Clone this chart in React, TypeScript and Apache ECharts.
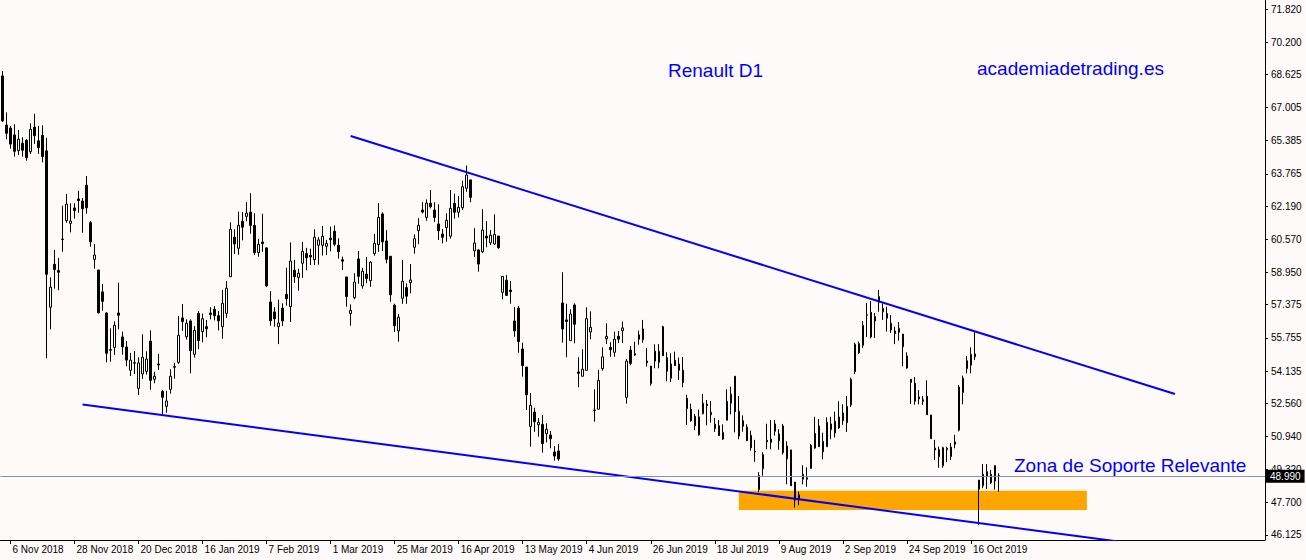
import React, { useEffect, useRef } from "react";
import * as echarts from "echarts";

// ---------- calendar (Euronext trading days) ----------
const FIRST_SESSION = [2018, 10, 2]; // 2 Nov 2018 (month is 0-based)
const MARKET_HOLIDAYS = ["2018-12-25", "2018-12-26", "2019-01-01", "2019-04-19", "2019-04-22", "2019-05-01"];
const SLOT_COUNT = 316;
const MONTH_NAMES = ["Jan", "Feb", "Mar", "Apr", "May", "Jun", "Jul", "Aug", "Sep", "Oct", "Nov", "Dec"];

const X_TICK_LABELS = [
  "6 Nov 2018", "28 Nov 2018", "20 Dec 2018", "16 Jan 2019", "7 Feb 2019", "1 Mar 2019",
  "25 Mar 2019", "16 Apr 2019", "13 May 2019", "4 Jun 2019", "26 Jun 2019", "18 Jul 2019",
  "9 Aug 2019", "2 Sep 2019", "24 Sep 2019", "16 Oct 2019",
];

const Y_TICK_VALUES = [
  46.125, 47.7, 49.32, 50.94, 52.56, 54.135, 55.755, 57.375, 58.95,
  60.57, 62.19, 63.765, 65.385, 67.005, 68.625, 70.2, 71.82,
];

// ---------- Renault D1 candles: [open, close, low, high] ----------
const candlesNov18Jan19 = [
  [68.55, 66.36, 66.3, 68.79], [66.15, 65.75, 65.46, 66.77], [66.0, 65.22, 65.0, 66.11], [65.67, 64.87, 64.61, 66.19],
  [64.9, 65.46, 64.69, 65.91], [65.26, 64.92, 64.61, 65.55], [65.41, 64.56, 64.41, 65.46], [64.85, 65.94, 64.74, 66.24],
  [66.05, 65.63, 65.23, 66.7], [65.38, 65.05, 64.74, 66.11], [65.65, 64.61, 64.33, 66.14], [64.89, 58.86, 54.76, 65.52],
  [57.25, 58.23, 56.17, 58.71], [59.35, 59.09, 58.16, 60.05], [59.04, 58.96, 58.08, 59.66], [60.58, 60.56, 59.96, 62.21],
  [61.48, 62.29, 61.38, 62.78], [61.35, 61.46, 60.91, 62.33], [62.1, 61.97, 61.58, 62.33], [62.54, 62.46, 61.87, 62.94],
  [62.44, 62.06, 60.89, 62.59], [63.21, 62.11, 61.82, 63.66], [61.38, 60.45, 60.21, 61.46], [59.59, 59.8, 59.13, 60.34],
  [59.07, 56.98, 56.95, 59.07], [58.0, 57.54, 57.08, 58.39], [56.97, 55.0, 54.56, 57.0], [55.18, 55.15, 54.59, 56.22],
  [55.29, 56.37, 54.92, 56.56], [56.97, 56.86, 56.17, 58.45], [55.8, 55.31, 54.93, 56.06], [55.31, 54.67, 54.37, 55.6],
  [54.17, 54.67, 53.89, 55.02], [54.54, 54.52, 53.99, 55.11], [53.29, 54.53, 52.96, 54.81], [53.99, 54.81, 53.75, 55.93],
  [54.12, 54.72, 53.96, 55.1], [55.59, 53.68, 53.22, 56.12], [53.73, 53.88, 53.54, 54.1], [54.48, 54.43, 54.19, 54.97],
  [53.13, 52.85, 51.99, 53.21], [52.41, 52.67, 52.1, 53.17], [53.24, 53.88, 53.03, 54.22], [54.35, 54.32, 53.76, 54.54],
  [54.56, 55.88, 54.48, 56.82], [56.73, 56.55, 56.1, 57.41], [55.81, 56.47, 55.67, 56.66], [56.58, 55.13, 54.02, 56.66],
  [54.95, 56.12, 54.79, 56.33], [56.95, 55.62, 55.2, 57.07],
];
const candlesJan19Apr19 = [
  [56.06, 56.69, 55.54, 56.94], [56.3, 56.2, 55.78, 56.63], [56.97, 56.89, 56.66, 57.25], [57.15, 56.84, 56.61, 57.31],
  [56.84, 56.59, 56.12, 57.07], [56.3, 57.44, 55.71, 58.09], [56.95, 58.18, 56.73, 58.53], [58.74, 61.06, 58.74, 61.4],
  [60.67, 60.34, 59.85, 61.06], [60.13, 61.25, 59.82, 61.92], [61.45, 61.16, 60.52, 61.9], [61.69, 61.85, 61.45, 62.38],
  [61.89, 61.25, 60.84, 62.82], [61.25, 59.92, 59.8, 61.84], [59.92, 60.33, 59.72, 60.59], [60.44, 60.36, 59.96, 61.82],
  [60.15, 58.29, 58.23, 60.18], [57.51, 56.59, 56.35, 58.04], [57.02, 56.69, 56.3, 57.26], [56.3, 56.48, 55.45, 57.62],
  [57.21, 56.58, 56.33, 57.44], [57.88, 57.67, 57.33, 59.18], [57.28, 59.51, 56.53, 60.42], [59.06, 58.74, 58.44, 59.57],
  [58.71, 58.91, 58.06, 59.13], [59.4, 59.98, 58.69, 60.44], [59.87, 59.67, 59.06, 60.15], [59.79, 59.71, 59.31, 60.11],
  [59.57, 60.67, 59.31, 61.06], [60.28, 60.54, 59.33, 60.67], [60.28, 60.72, 59.77, 61.22], [60.23, 60.37, 59.8, 60.54],
  [60.63, 60.55, 59.98, 61.19], [60.96, 60.33, 60.23, 61.25], [60.28, 59.96, 59.62, 60.62], [59.57, 59.5, 59.07, 59.72],
  [58.73, 57.77, 57.28, 58.73], [56.94, 57.1, 56.35, 57.39], [57.72, 58.48, 57.64, 58.91], [59.61, 58.76, 58.4, 60.0],
  [58.29, 59.01, 58.16, 59.17], [58.87, 58.66, 58.42, 59.71], [58.55, 59.45, 58.25, 59.51], [59.87, 60.37, 59.77, 60.83],
  [60.31, 61.64, 59.96, 62.34], [61.81, 60.45, 60.0, 61.89], [60.49, 59.59, 59.4, 61.02], [59.74, 57.86, 57.52, 59.74],
  [57.35, 56.35, 56.04, 57.42], [56.09, 56.76, 55.57, 56.92],
];
const candlesApr19Jun19 = [
  [57.69, 58.52, 57.42, 59.56], [58.21, 57.79, 57.42, 58.42], [58.45, 58.58, 57.93, 59.36], [60.18, 60.6, 59.87, 60.81],
  [60.99, 61.25, 60.33, 61.6], [62.0, 61.9, 61.84, 62.38], [61.64, 62.34, 61.48, 62.52], [62.33, 62.16, 62.08, 62.98],
  [62.0, 61.64, 61.42, 62.38], [61.32, 60.99, 60.54, 62.28], [60.83, 60.67, 60.37, 61.07], [61.14, 61.5, 60.45, 61.84],
  [60.72, 62.08, 60.6, 62.98], [62.33, 61.89, 61.58, 62.8], [61.89, 62.13, 61.64, 62.69], [62.11, 63.14, 62.0, 63.43],
  [63.06, 63.71, 62.89, 64.17], [63.47, 62.62, 62.38, 63.48], [60.01, 60.39, 59.71, 61.11], [60.05, 59.36, 58.99, 60.08],
  [59.96, 61.02, 59.89, 62.04], [60.72, 60.63, 60.18, 61.46], [60.4, 60.77, 60.29, 61.02], [60.34, 60.81, 60.29, 61.79],
  [60.73, 60.16, 60.11, 60.73], [57.98, 58.76, 57.64, 58.76], [58.57, 57.83, 57.8, 58.83], [58.09, 58.01, 57.42, 58.53],
  [56.58, 56.1, 55.81, 57.26], [57.21, 55.57, 55.03, 57.31], [55.21, 54.4, 53.86, 55.52], [54.33, 52.98, 52.23, 54.33],
  [51.43, 52.46, 50.44, 53.06], [52.13, 51.66, 51.17, 52.34], [51.51, 51.63, 50.93, 51.84], [51.53, 50.59, 50.15, 51.99],
  [51.07, 51.29, 50.65, 51.58], [51.01, 50.83, 50.36, 51.21], [50.18, 49.98, 49.75, 50.46], [50.23, 49.84, 49.75, 50.57],
  [57.46, 56.19, 55.52, 58.96], [56.63, 56.55, 54.81, 57.42], [55.62, 56.92, 55.62, 57.15], [57.36, 56.42, 55.49, 57.44],
  [54.09, 54.02, 53.34, 54.81], [53.88, 54.22, 53.88, 55.2], [54.17, 56.69, 54.17, 57.25], [56.04, 56.27, 55.69, 57.05],
  [52.23, 52.21, 51.66, 53.24], [52.27, 53.68, 52.27, 54.19],
];
const candlesJun19Aug19 = [
  [54.25, 54.83, 54.15, 55.29], [55.71, 55.83, 55.45, 56.47], [55.29, 55.18, 54.83, 55.54], [55.05, 55.69, 54.83, 56.06],
  [55.83, 55.69, 55.5, 56.09], [56.1, 56.24, 55.5, 56.55], [52.85, 54.62, 52.54, 54.72], [55.16, 54.51, 54.42, 55.36],
  [54.98, 54.92, 54.88, 55.57], [55.69, 55.9, 55.42, 56.11], [56.19, 55.67, 55.52, 56.63], [54.62, 54.54, 54.35, 55.26],
  [53.52, 54.38, 53.42, 54.38], [55.1, 54.62, 54.27, 55.44], [54.56, 55.1, 54.27, 55.45], [56.3, 54.88, 54.88, 56.35],
  [54.79, 54.12, 53.63, 55.05], [53.78, 54.48, 53.6, 55.0], [54.66, 54.4, 54.4, 55.08], [54.17, 54.48, 53.7, 54.79],
  [54.17, 53.58, 53.34, 54.82], [52.8, 52.3, 51.5, 52.98], [52.27, 51.71, 51.66, 52.54], [51.92, 51.46, 51.24, 52.04],
  [51.02, 51.9, 50.98, 52.25], [52.05, 52.56, 52.02, 53.01], [52.52, 52.44, 51.48, 52.72], [52.12, 52.0, 51.61, 52.67],
  [51.53, 51.32, 51.16, 51.85], [51.46, 50.98, 50.96, 51.74], [50.81, 51.14, 50.77, 51.53], [51.73, 52.66, 51.73, 53.24],
  [52.56, 53.0, 52.02, 53.37], [53.88, 52.15, 51.14, 53.89], [50.96, 52.17, 50.8, 52.92], [51.43, 51.71, 51.17, 51.97],
  [51.39, 50.73, 50.72, 51.53], [50.99, 50.39, 50.24, 51.22], [50.2, 50.18, 49.7, 50.77], [48.34, 49.04, 48.21, 49.2],
  [49.36, 50.05, 49.02, 50.17], [50.75, 50.68, 50.31, 51.56], [50.65, 50.81, 50.31, 51.74], [51.19, 51.55, 50.98, 51.74],
  [51.06, 50.73, 50.29, 51.29], [51.45, 50.15, 50.05, 51.55], [49.84, 50.47, 48.6, 50.7], [50.28, 48.53, 48.52, 50.28],
  [48.71, 47.83, 47.46, 48.71], [47.88, 48.09, 47.58, 48.24],
];
const candlesAug19Oct19 = [
  [48.85, 49.09, 48.6, 49.53], [48.92, 48.85, 48.48, 49.43], [49.38, 50.51, 49.35, 50.56], [50.37, 51.09, 50.34, 51.9],
  [51.45, 50.44, 50.44, 51.79], [50.19, 50.7, 49.82, 51.12], [50.44, 51.63, 50.42, 51.87], [51.27, 51.55, 50.8, 51.9],
  [51.11, 51.68, 50.88, 52.15], [51.35, 51.89, 51.3, 52.66], [52.08, 51.71, 51.51, 52.51], [51.61, 52.41, 51.16, 52.92],
  [52.48, 53.73, 52.38, 53.81], [54.1, 55.44, 53.99, 55.52], [55.47, 55.03, 54.97, 55.57], [55.39, 56.37, 55.27, 56.58],
  [56.88, 56.86, 55.8, 57.46], [57.0, 55.8, 55.73, 57.56], [56.79, 56.58, 55.75, 56.97], [57.49, 57.77, 57.03, 58.09],
  [57.03, 57.2, 56.63, 57.44], [56.71, 56.95, 56.06, 57.28], [56.14, 56.47, 55.99, 56.87], [56.09, 55.97, 55.45, 56.3],
  [56.03, 56.22, 55.62, 56.53], [55.94, 55.32, 54.37, 55.94], [54.87, 54.28, 54.25, 55.05], [53.73, 53.58, 52.52, 53.73],
  [53.54, 52.66, 52.49, 53.84], [52.87, 52.78, 52.51, 53.21], [52.73, 52.66, 52.48, 52.92], [52.9, 52.0, 52.0, 53.68],
  [51.99, 50.83, 50.83, 51.99], [50.28, 50.37, 49.79, 50.77], [50.29, 49.95, 49.41, 50.44], [49.51, 50.39, 49.41, 50.44],
  [50.29, 50.36, 49.68, 50.44], [49.95, 50.42, 49.79, 50.62], [50.67, 50.56, 50.36, 51.02], [51.25, 53.35, 51.19, 53.45],
  [53.08, 53.78, 52.51, 53.91], [54.25, 54.64, 54.02, 54.87], [54.42, 54.95, 54.02, 55.29], [54.83, 54.97, 54.67, 56.04],
  [48.81, 48.36, 46.61, 48.81], [48.53, 49.09, 48.41, 49.59], [49.22, 48.97, 48.37, 49.59], [48.67, 49.09, 48.62, 49.3],
  [49.51, 48.76, 48.34, 49.54], [49.02, 48.99, 48.24, 49.14],
];

// ---------- annotations (bar index, price) ----------
const UPPER_TRENDLINE = [[87, 65.62], [293, 53.01]];
const LOWER_TRENDLINE = [[20, 52.5], [293, 45.44]];
const SUPPORT_ZONE_BARS = [184, 271];
const SUPPORT_ZONE_PRICES = [48.29, 47.35];
const LAST_PRICE = 48.99;
const Y_MIN = 45.88;
const Y_MAX = 72.26;

const TITLE_TEXT = "Renault D1";
const SITE_TEXT = "academiadetrading.es";
const ZONE_TEXT = "Zona de Soporte Relevante";

function buildCategories(): string[] {
  const out: string[] = [];
  const d = new Date(Date.UTC(FIRST_SESSION[0], FIRST_SESSION[1], FIRST_SESSION[2]));
  while (out.length < SLOT_COUNT) {
    const wd = d.getUTCDay();
    const iso = d.toISOString().slice(0, 10);
    if (wd !== 0 && wd !== 6 && !MARKET_HOLIDAYS.includes(iso)) {
      out.push(`${d.getUTCDate()} ${MONTH_NAMES[d.getUTCMonth()]} ${d.getUTCFullYear()}`);
    }
    d.setUTCDate(d.getUTCDate() + 1);
  }
  return out;
}

export default function App() {
  const ref = useRef<HTMLDivElement>(null);

  useEffect(() => {
    if (!ref.current) return;
    const chart = echarts.init(ref.current, undefined, { renderer: "svg" });
    const categories = buildCategories();
    const candles = [
      ...candlesNov18Jan19,
      ...candlesJan19Apr19,
      ...candlesApr19Jun19,
      ...candlesJun19Aug19,
      ...candlesAug19Oct19,
    ];
    const showTick = (_i: number, value: string) => X_TICK_LABELS.includes(value);
    const axisFont = "Liberation Sans";
    const noteFont = '19px "Liberation Sans"';

    chart.setOption({
      animation: false,
      backgroundColor: "#fffafa",
      grid: { left: 0.5, right: 41, top: 0, bottom: 20, containLabel: false },
      xAxis: {
        type: "category",
        data: categories,
        boundaryGap: true,
        axisLine: { show: true, lineStyle: { color: "#000", width: 1 } },
        axisTick: { show: true, inside: false, length: 4, alignWithLabel: true, interval: showTick, lineStyle: { color: "#000" } },
        axisLabel: {
          show: true,
          interval: showTick,
          align: "left",
          margin: 4,
          padding: [0, 0, 0, 2],
          color: "#000",
          fontSize: 10,
          fontFamily: axisFont,
        },
        splitLine: { show: false },
      },
      yAxis: {
        type: "value",
        position: "right",
        min: Y_MIN,
        max: Y_MAX,
        axisLine: { show: true, lineStyle: { color: "#000", width: 1 } },
        axisTick: { show: true, inside: false, length: 3, customValues: Y_TICK_VALUES, lineStyle: { color: "#000" } },
        axisLabel: {
          show: true,
          customValues: Y_TICK_VALUES,
          formatter: (v: number) => v.toFixed(3),
          margin: 6,
          color: "#000",
          fontSize: 10,
          fontFamily: axisFont,
        },
        splitLine: { show: false },
      },
      series: [
        {
          type: "candlestick",
          data: candles,
          barWidth: 2,
          z: 3,
          itemStyle: {
            color: "#ffffff",
            color0: "#000000",
            borderColor: "#000000",
            borderColor0: "#000000",
            borderWidth: 1,
          },
          markArea: {
            silent: true,
            itemStyle: { color: "#ffa500", opacity: 1 },
            data: [
              [
                { xAxis: categories[SUPPORT_ZONE_BARS[0]], yAxis: SUPPORT_ZONE_PRICES[0] },
                { xAxis: categories[SUPPORT_ZONE_BARS[1]], yAxis: SUPPORT_ZONE_PRICES[1] },
              ],
            ],
          },
          markLine: {
            silent: true,
            symbol: ["none", "none"],
            lineStyle: { color: "#8894a0", width: 1, type: "solid" },
            label: {
              show: true,
              position: "end",
              distance: 1,
              formatter: () => LAST_PRICE.toFixed(3),
              backgroundColor: "#000",
              color: "#fff",
              padding: [2, 4, 1, 4],
              fontSize: 10,
              fontFamily: axisFont,
            },
            data: [{ yAxis: LAST_PRICE }],
          },
        },
        {
          type: "line",
          data: UPPER_TRENDLINE,
          symbol: "none",
          clip: true,
          z: 4,
          lineStyle: { color: "#0000ff", width: 2 },
        },
        {
          type: "line",
          data: LOWER_TRENDLINE,
          symbol: "none",
          clip: true,
          z: 4,
          lineStyle: { color: "#0000ff", width: 2 },
        },
      ],
      graphic: [
        {
          type: "text",
          left: 668,
          top: 61,
          style: { text: TITLE_TEXT, fill: "#0000ff", font: noteFont },
        },
        {
          type: "text",
          left: 977,
          top: 59,
          style: { text: SITE_TEXT, fill: "#0000ff", font: noteFont },
        },
        {
          type: "text",
          left: 1014,
          top: 456,
          style: { text: ZONE_TEXT, fill: "#0000ff", font: noteFont },
        },
      ],
    });

    return () => chart.dispose();
  }, []);

  return (
    <div
      ref={ref}
      style={{ position: "fixed", left: 0, top: 0, width: 1306, height: 560 }}
    />
  );
}
